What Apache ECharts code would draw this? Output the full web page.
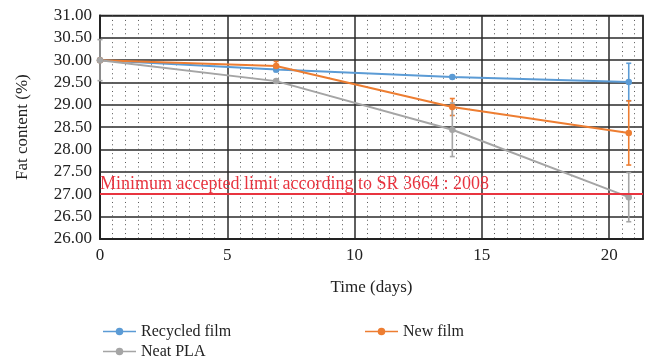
<!DOCTYPE html>
<html>
<head>
<meta charset="utf-8">
<script src="https://cdn.jsdelivr.net/npm/echarts@6/dist/echarts.min.js"></script>
<style>
  html, body { margin: 0; padding: 0; background: #fff; }
  #chart { width: 649px; height: 362px; }
</style>
</head>
<body>
<div id="chart"></div>
<script>
// Storage time (days) and fat content (%) for the three packaging films
const days = [0, 6.92, 13.84, 20.77];
const recycledFilm = [30.00, 29.79, 29.62, 29.51];
const recycledErr = [0, 0.05, 0.03, 0.42];
const newFilm = [30.00, 29.87, 28.95, 28.37];
const newErr = [0, 0.10, 0.19, 0.72];
const neatPLA = [30.00, 29.53, 28.44, 26.93];
const neatErr = [0.46, 0.03, 0.60, 0.55];
const limitValue = 27;
const limitText = 'Minimum accepted limit according to SR 3664 : 2008';
const seriesNames = ['Recycled film', 'New film', 'Neat PLA'];
const colors = ['#5B9BD5', '#ED7D31', '#A5A5A5'];

const FONT = '"Liberation Serif", "DejaVu Serif", serif';

function pairs(ys) { return days.map((d, i) => [d, ys[i]]); }
function errRows(ys, es) { return days.map((d, i) => [d, ys[i] - es[i], ys[i] + es[i]]); }

function errorSeries(name, ys, es, color) {
  return {
    type: 'custom',
    name: name,
    data: errRows(ys, es),
    z: 3,
    silent: true,
    renderItem: function (params, api) {
      const x = api.value(0);
      const lo = api.coord([x, api.value(1)]);
      const hi = api.coord([x, api.value(2)]);
      if (Math.abs(hi[1] - lo[1]) < 1) return null;
      const cap = 2.5;
      const style = { stroke: color, lineWidth: 1.6 };
      return {
        type: 'group',
        children: [
          { type: 'line', shape: { x1: lo[0], y1: lo[1], x2: hi[0], y2: hi[1] }, style: style },
          { type: 'line', shape: { x1: lo[0] - cap, y1: lo[1], x2: lo[0] + cap, y2: lo[1] }, style: style },
          { type: 'line', shape: { x1: hi[0] - cap, y1: hi[1], x2: hi[0] + cap, y2: hi[1] }, style: style }
        ]
      };
    }
  };
}

function lineSeries(name, ys, color, extra) {
  return Object.assign({
    type: 'line',
    name: name,
    data: pairs(ys),
    symbol: 'circle',
    symbolSize: 6.5,
    color: color,
    lineStyle: { width: 2, color: color },
    itemStyle: { color: color },
    z: 4
  }, extra || {});
}

const chart = echarts.init(document.getElementById('chart'), null, { renderer: 'canvas' });

const legendBase = {
  itemWidth: 33,
  itemHeight: 8,
  itemGap: 10,
  textStyle: { fontFamily: FONT, fontSize: 16, color: '#222' },
  icon: 'path://M0,4 L33,4 L33,5.6 L0,5.6 Z M16.5,1 A3.8,3.8 0 1 1 16.49,1 Z'
};

chart.setOption({
  animation: false,
  grid: {
    left: 100, right: 6, top: 15.5, bottom: 123.3,
    show: true, borderColor: '#222', borderWidth: 1.5
  },
  legend: [
    Object.assign({}, legendBase, { data: [seriesNames[0]], left: 98, top: 318.5 }),
    Object.assign({}, legendBase, { data: [seriesNames[1]], left: 360, top: 318.5 }),
    Object.assign({}, legendBase, { data: [seriesNames[2]], left: 98, top: 338.5 })
  ],
  xAxis: {
    type: 'value',
    min: 0, max: 21.33, interval: 5,
    name: 'Time (days)',
    nameLocation: 'middle',
    nameGap: 40,
    nameTextStyle: { fontFamily: FONT, fontSize: 17, color: '#222' },
    axisLine: { show: true, onZero: false, lineStyle: { color: '#222', width: 2 } },
    axisTick: { show: false },
    axisLabel: { fontFamily: FONT, fontSize: 17, color: '#222', margin: 8, showMaxLabel: false },
    splitLine: { show: true, lineStyle: { color: '#2a2a2a', width: 1.5 } },
    minorTick: { show: false, splitNumber: 10 },
    minorSplitLine: { show: true, lineStyle: { color: '#555', width: 1, type: [1, 3.44] } }
  },
  yAxis: {
    type: 'value',
    min: 26, max: 31, interval: 0.5,
    name: 'Fat content (%)',
    nameLocation: 'middle',
    nameGap: 68.5,
    nameTextStyle: { fontFamily: FONT, fontSize: 17, color: '#222' },
    axisLine: { show: true, lineStyle: { color: '#222', width: 2 } },
    axisTick: { show: false },
    axisLabel: {
      fontFamily: FONT, fontSize: 17, color: '#222', margin: 8,
      formatter: v => v.toFixed(2)
    },
    splitLine: { show: true, lineStyle: { color: '#2a2a2a', width: 1.5 } }
  },
  series: [
    lineSeries(seriesNames[0], recycledFilm, colors[0], {
      markLine: {
        silent: true,
        symbol: 'none',
        data: [{ yAxis: limitValue }],
        lineStyle: { color: '#E8343F', width: 2.2, type: 'solid' },
        label: {
          show: true,
          position: 'insideStartTop',
          formatter: limitText,
          fontFamily: FONT, fontSize: 18, color: '#E8343F',
          distance: [0, 1]
        }
      }
    }),
    lineSeries(seriesNames[1], newFilm, colors[1]),
    lineSeries(seriesNames[2], neatPLA, colors[2]),
    errorSeries(seriesNames[0], recycledFilm, recycledErr, colors[0]),
    errorSeries(seriesNames[1], newFilm, newErr, colors[1]),
    errorSeries(seriesNames[2], neatPLA, neatErr, colors[2])
  ]
});
</script>
</body>
</html>
